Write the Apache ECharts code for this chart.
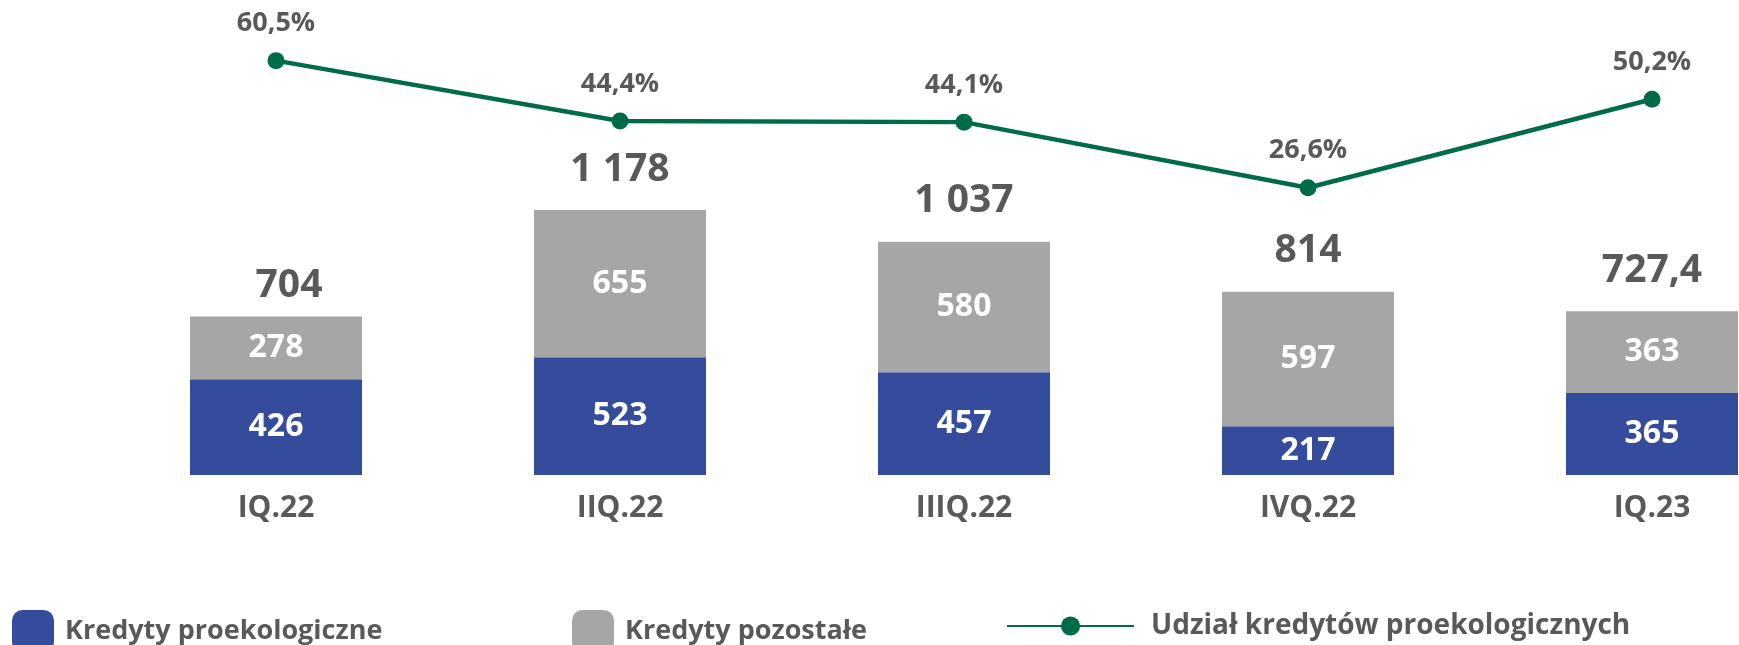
<!DOCTYPE html>
<html>
<head>
<meta charset="utf-8">
<title>Kredyty proekologiczne</title>
<script src="https://cdn.jsdelivr.net/npm/echarts@6/dist/echarts.min.js"></script>
<style>
  html, body { margin: 0; padding: 0; background: #fff; }
  #chart { width: 1739px; height: 645px; }
</style>
</head>
<body>
<div id="chart"></div>
<script>
// dane do wykresu
var categories = ['IQ.22', 'IIQ.22', 'IIIQ.22', 'IVQ.22', 'IQ.23'];
var ecoLoans = [426, 523, 457, 217, 365];
var otherLoans = [278, 655, 580, 597, 363];
var totals = [704, 1178, 1037, 814, 727.4];
var ecoShare = [60.5, 44.4, 44.1, 26.6, 50.2];

var FONT = '"Open Sans", sans-serif';
var TEXT = '#595959';
var BLUE = '#354B9C';
var GREY = '#A6A6A6';
var GREEN = '#006B47';

// format polski: spacja jako separator tysiecy, przecinek dziesietny
function fmtPl(v) {
  var parts = String(v).split('.');
  parts[0] = parts[0].replace(/\B(?=(\d{3})+(?!\d))/g, ' ');
  return parts.join(',');
}

var chart = echarts.init(document.getElementById('chart'));

var legendBase = {
  orient: 'horizontal',
  padding: 0,
  itemWidth: 42,
  itemHeight: 42,
  textStyle: { fontFamily: FONT, fontSize: 27, fontWeight: 'bold', color: TEXT, padding: [0, 0, 0, 6] }
};

var totalData = totals.map(function (t, i) {
  var item = { value: 0 };
  if (i === 0) {
    item.label = { distance: 11, offset: [13, 0] };
  }
  return item;
});

var option = {
  animation: false,
  backgroundColor: '#fff',
  textStyle: { fontFamily: FONT },
  grid: { left: 276, top: 25, width: 1376, height: 450 },
  legend: [
    Object.assign({}, legendBase, { data: ['Kredyty proekologiczne'], left: 12, top: 610 }),
    Object.assign({}, legendBase, { data: ['Kredyty pozostałe'], left: 572, top: 610 }),
    Object.assign({}, legendBase, {
      data: ['Udział kredytów proekologicznych'], left: 1006, top: 612,
      itemWidth: 127, itemHeight: 24,
      textStyle: { fontFamily: FONT, fontSize: 28, fontWeight: 'bold', color: TEXT, padding: [0, 0, 0, 12] }
    })
  ],
  xAxis: {
    type: 'category',
    data: categories,
    boundaryGap: false,
    axisLine: { show: false },
    axisTick: { show: false },
    axisLabel: { color: TEXT, fontSize: 30, fontWeight: 'bold', fontFamily: FONT, margin: 18 }
  },
  yAxis: [
    { type: 'value', min: 0, max: 2000, show: false, splitLine: { show: false } },
    { type: 'value', min: -50, max: 70, show: false, splitLine: { show: false } }
  ],
  series: [
    {
      name: 'Kredyty proekologiczne',
      type: 'bar',
      stack: 'loans',
      barWidth: 172,
      data: ecoLoans,
      itemStyle: { color: BLUE },
      label: {
        show: true, position: 'inside', color: '#fff',
        fontSize: 32, fontWeight: 'bold', fontFamily: FONT,
        formatter: function (p) { return fmtPl(p.value); }
      }
    },
    {
      name: 'Kredyty pozostałe',
      type: 'bar',
      stack: 'loans',
      data: otherLoans,
      itemStyle: { color: GREY },
      label: {
        show: true, position: 'inside', color: '#fff',
        fontSize: 32, fontWeight: 'bold', fontFamily: FONT,
        formatter: function (p) { return fmtPl(p.value); }
      }
    },
    {
      // suma nad slupkiem
      name: 'Suma',
      type: 'bar',
      stack: 'loans',
      data: totalData,
      itemStyle: { color: 'transparent' },
      label: {
        show: true, position: 'top', distance: 21, color: TEXT,
        fontSize: 39, fontWeight: 'bold', fontFamily: FONT,
        formatter: function (p) { return fmtPl(totals[p.dataIndex]); }
      }
    },
    {
      name: 'Udział kredytów proekologicznych',
      type: 'line',
      yAxisIndex: 1,
      data: ecoShare,
      symbol: 'circle',
      symbolSize: 17,
      itemStyle: { color: GREEN },
      lineStyle: { color: GREEN, width: 4.5 },
      label: {
        show: true, position: 'top', distance: 15, color: TEXT,
        fontSize: 27, fontWeight: 'bold', fontFamily: FONT,
        formatter: function (p) { return p.value.toFixed(1).replace('.', ',') + '%'; }
      }
    }
  ]
};

chart.setOption(option);
</script>
</body>
</html>
